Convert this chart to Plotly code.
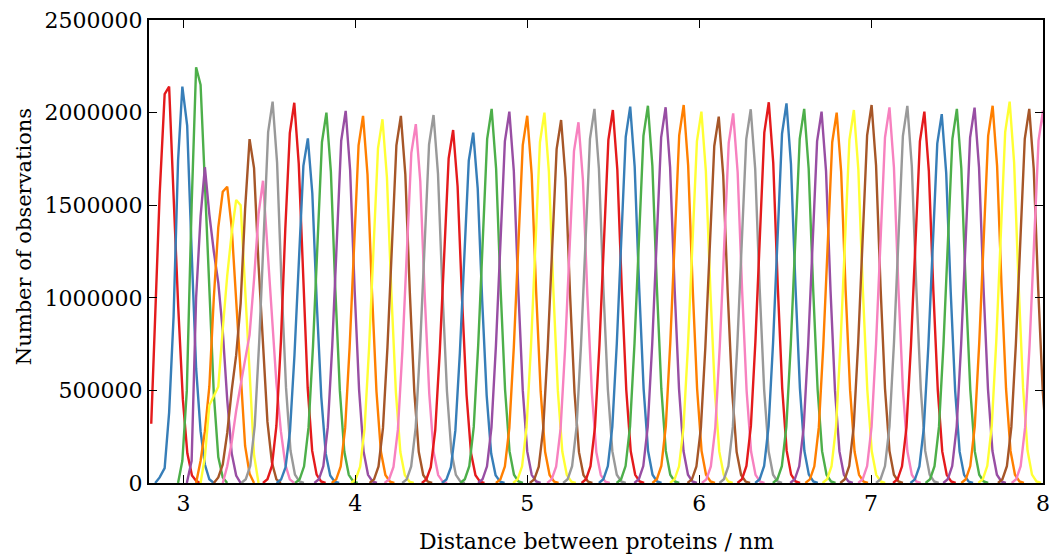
import plotly.graph_objects as go

# Set1 colour cycle used for the umbrella windows
colors = ["#e41a1c", "#377eb8", "#4daf4a", "#984ea3", "#ff7f00",
          "#ffff33", "#a65628", "#f781bf", "#999999"]

# ---- first eight windows: irregular histograms ----
early_x = [
    [2.813, 2.836, 2.862, 2.891, 2.917, 2.943, 2.970, 2.997, 3.023, 3.050, 3.076, 3.100],
    [2.836, 2.862, 2.891, 2.917, 2.943, 2.969, 2.994, 3.022, 3.048, 3.074, 3.100, 3.125, 3.151, 3.177],
    [2.969, 2.994, 3.020, 3.048, 3.074, 3.100, 3.125, 3.151, 3.177, 3.203, 3.229, 3.255],
    [3.020, 3.048, 3.074, 3.100, 3.125, 3.151, 3.177, 3.203, 3.229, 3.255, 3.281, 3.307, 3.333],
    [3.074, 3.100, 3.125, 3.151, 3.177, 3.203, 3.229, 3.255, 3.281, 3.307, 3.333, 3.359, 3.385, 3.411],
    [3.100, 3.125, 3.151, 3.177, 3.203, 3.229, 3.255, 3.281, 3.307, 3.333, 3.359, 3.385, 3.411, 3.437],
    [3.177, 3.203, 3.229, 3.255, 3.281, 3.307, 3.333, 3.359, 3.385, 3.411, 3.437, 3.463, 3.489, 3.515, 3.541, 3.567],
    [3.229, 3.255, 3.281, 3.307, 3.333, 3.359, 3.385, 3.411, 3.437, 3.463, 3.489, 3.515, 3.541, 3.567, 3.593, 3.619, 3.645],
]
early_y = [
    [320000, 930000, 1560000, 2100000, 2140000, 1550000, 950000, 450000, 160000, 40000, 10000, 0],
    [0, 30000, 80000, 380000, 900000, 1740000, 2140000, 1930000, 1250000, 620000, 280000, 100000, 20000, 0],
    [0, 120000, 500000, 1500000, 2245000, 2150000, 1620000, 1000000, 480000, 140000, 30000, 0],
    [0, 120000, 1000000, 1440000, 1705000, 1450000, 1250000, 1080000, 820000, 450000, 160000, 40000, 0],
    [0, 120000, 280000, 520000, 1000000, 1380000, 1573000, 1600000, 1380000, 970000, 590000, 200000, 50000, 0],
    [0, 140000, 420000, 470000, 520000, 830000, 1120000, 1350000, 1528000, 1500000, 1050000, 600000, 150000, 0],
    [0, 30000, 100000, 270000, 500000, 690000, 970000, 1480000, 1857000, 1700000, 1180000, 740000, 330000, 110000, 20000, 0],
    [0, 90000, 220000, 390000, 530000, 665000, 800000, 1100000, 1450000, 1632000, 1260000, 930000, 540000, 280000, 100000, 20000, 0],
]

# ---- remaining windows: position (nm) and height of each histogram's top bin ----
peak_pos = [3.519, 3.645, 3.724, 3.832, 3.944, 4.045, 4.158, 4.265, 4.352, 4.455,
            4.569, 4.686, 4.793, 4.896, 5.000, 5.100, 5.197, 5.298, 5.391, 5.498,
            5.599, 5.702, 5.805, 5.910, 6.013, 6.114, 6.198, 6.300, 6.405, 6.508,
            6.611, 6.712, 6.800, 6.900, 7.003, 7.107, 7.211, 7.310, 7.411, 7.499,
            7.602, 7.707, 7.806, 7.920, 8.000]
peak_height = [2059000, 2053000, 1861000, 2000000, 2009000, 1982000, 1964000, 1982000, 1938000, 1987000,
               1906000, 1892000, 2020000, 2005000, 1983000, 2000000, 1960000, 1948000, 2020000, 2014000,
               2032000, 2037000, 2029000, 2041000, 2005000, 1978000, 1996000, 2018000, 2056000, 2050000,
               2020000, 2005000, 2000000, 2014000, 2041000, 2028000, 2036000, 2005000, 1992000, 2020000,
               2027000, 2037000, 2059000, 2020000, 2010000]

# histogram bin width (nm) and the typical peak shape, relative to the top bin
bin_width = 0.026
shape_bins = [-7, -6, -5, -4, -3, -2, -1, 0, 1, 2, 3, 4, 5, 6, 7]
shape_rel = [0.0, 0.01, 0.045, 0.15, 0.37, 0.67, 0.92, 1.0, 0.84, 0.52, 0.25, 0.085, 0.022, 0.004, 0.0]

xtick_vals = [3, 4, 5, 6, 7, 8]
xtick_text = ["3", "4", "5", "6", "7", "8"]
ytick_vals = [0, 500000, 1000000, 1500000, 2000000, 2500000]
ytick_text = ["0", "500000", "1000000", "1500000", "2000000", "2500000"]

fig = go.Figure()
idx = 0
for xs, ys in zip(early_x, early_y):
    fig.add_trace(go.Scatter(x=xs, y=ys, mode="lines",
                             line=dict(color=colors[idx % 9], width=2.4), showlegend=False))
    idx += 1
for p, h in zip(peak_pos, peak_height):
    xs = [p + b * bin_width for b in shape_bins]
    ys = [h * r for r in shape_rel]
    fig.add_trace(go.Scatter(x=xs, y=ys, mode="lines",
                             line=dict(color=colors[idx % 9], width=2.4), showlegend=False))
    idx += 1

font_family = "DejaVu Serif"
axis_common = dict(showline=True, linecolor="black", linewidth=2, mirror="ticks",
                   ticks="inside", ticklen=8, tickwidth=1, tickcolor="black",
                   showgrid=False, zeroline=False, automargin=False,
                   ticklabeloverflow="allow",
                   tickfont=dict(family=font_family, size=22, color="black"))

fig.update_layout(
    width=1049, height=554,
    margin=dict(l=149, r=6, t=20, b=71, autoexpand=False),
    paper_bgcolor="white", plot_bgcolor="white",
    xaxis=dict(range=[2.8, 8.0], tickmode="array", tickvals=xtick_vals, ticktext=xtick_text,
               **axis_common),
    yaxis=dict(range=[0, 2500000], tickmode="array", tickvals=ytick_vals, ticktext=ytick_text,
               **axis_common),
    annotations=[
        dict(text="Distance between proteins / nm", xref="paper", yref="paper",
             x=0.5, y=-0.1253, xanchor="center", yanchor="middle", showarrow=False,
             font=dict(family=font_family, size=22, color="black")),
        dict(text="Number of observations", xref="paper", yref="paper",
             x=-0.1398, y=0.531, xanchor="center", yanchor="middle", showarrow=False,
             textangle=-90, font=dict(family=font_family, size=21, color="black")),
    ],
)

fig.write_html("out.html")
